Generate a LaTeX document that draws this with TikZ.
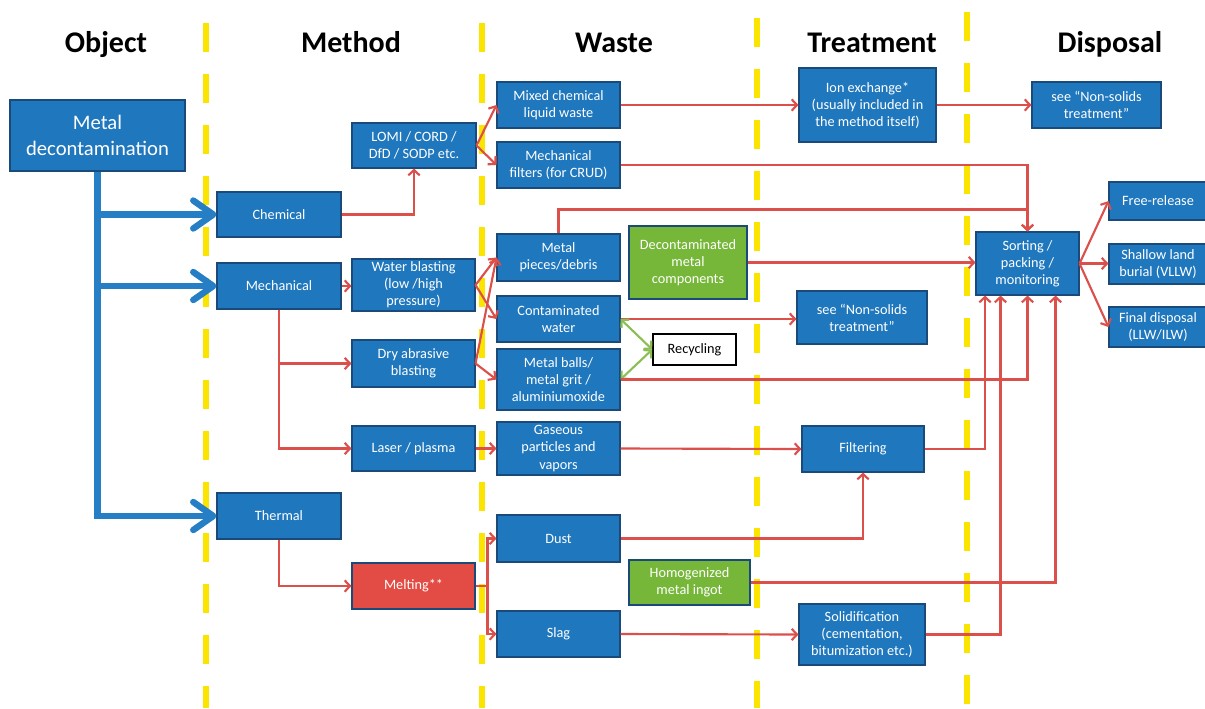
\documentclass[tikz,border=0pt]{standalone}
\usepackage{fontspec}
\setmainfont{Carlito}
\usepackage{tikz}
\usetikzlibrary{arrows.meta}
\usetikzlibrary{positioning}
\usetikzlibrary{calc}
\definecolor{boxblue}{RGB}{31,119,189}
\definecolor{boxedge}{RGB}{26,74,122}
\definecolor{boxgreen}{RGB}{118,183,58}
\definecolor{boxred}{RGB}{226,76,68}
\definecolor{linered}{RGB}{219,80,74}
\definecolor{linegreen}{RGB}{140,190,86}
\definecolor{trunkblue}{RGB}{38,126,196}
\definecolor{divideryellow}{RGB}{250,228,0}
\tikzset{
  flowchart/.style={
    x=0.75pt, y=-0.75pt,
    box/.style={rectangle, draw=boxedge, line width=0.8pt, fill=boxblue, text=white,
      align=center, inner sep=1pt, font={\fontsize{10.7}{12.8}\selectfont}},
    box size/.style 2 args={minimum width=##1*0.75pt, minimum height=##2*0.75pt},
    green box/.style={box, fill=boxgreen},
    red box/.style={box, fill=boxred},
    plain box/.style={box, fill=white, draw=black, line width=1.2pt, text=black},
    column title/.style={anchor=base, font={\fontsize{22.5}{27}\selectfont\bfseries}},
    divider line/.style={divideryellow, line width=4.5pt, dash pattern=on 21.75pt off 16.5pt},
    flow/.style={linered, line width=1.6pt, -{Straight Barb[length=4pt,width=8.5pt]}},
    recycle/.style={linegreen, line width=1.6pt, {Straight Barb[length=4pt,width=8.5pt]}-{Straight Barb[length=4pt,width=8.5pt]}},
    main flow/.style={trunkblue, line width=4.8pt, -{Straight Barb[length=15pt,width=21pt,round]}},
  }
}

\begin{document}
\begin{tikzpicture}[flowchart]
    \useasboundingbox (0,0) rectangle (1205,708);

    \draw[divider line] (206,23) -- (206,708);
    \draw[divider line] (482,23) -- (482,708);
    \draw[divider line] (757,18) -- (757,708);
    \draw[divider line] (967,12) -- (967,708);

    \node[column title] (t-object) at (106,52) {Object};
    \node[column title] (t-method) at (351,52) {Method};
    \node[column title] (t-waste) at (614,52) {Waste};
    \node[column title] (t-treat) at (872,52) {Treatment};
    \node[column title] (t-disp) at (1110,52) {Disposal};

    % object and methods
    \node[box, box size={175}{71}, font={\fontsize{15.5}{20}\selectfont}] (metal) at (97.5,135.5) {Metal\\decontamination};
    \node[box, box size={124}{45}] (chem) at (279,214.5) {Chemical};
    \node[box, box size={124}{46}] (mech) at (279,286) {Mechanical};
    \node[box, box size={124}{46}] (therm) at (279,516) {Thermal};
    \node[box, box size={124}{45}] (lomi) at (414,145.5) {LOMI / CORD /\\DfD / SODP etc.};
    \node[box, box size={123}{52}] (water) at (413.5,285) {Water blasting\\(low /high\\pressure)};
    \node[box, box size={123}{47}] (dry) at (413.5,363.5) {Dry abrasive\\blasting};
    \node[box, box size={123}{45}] (laser) at (413.5,448.5) {Laser / plasma};
    \node[red box, box size={123}{46}] (melt) at (413.5,586) {Melting**};

    % waste
    \node[box, box size={123}{46}] (mixed) at (558.5,105) {Mixed chemical\\liquid waste};
    \node[box, box size={123}{46}] (filters) at (558.5,165) {Mechanical\\filters (for CRUD)};
    \node[box, box size={123}{47}] (pieces) at (558.5,257.5) {Metal\\pieces/debris};
    \node[box, box size={123}{46}] (cwater) at (558.5,319) {Contaminated\\water};
    \node[box, box size={123}{61}] (balls) at (558.5,379.5) {Metal balls/\\metal grit /\\aluminiumoxide};
    \node[box, box size={123}{53}] (gas) at (558.5,448.5) {Gaseous\\particles and\\vapors};
    \node[box, box size={123}{47}] (dust) at (558.5,538.5) {Dust};
    \node[box, box size={123}{46}] (slag) at (558.5,634) {Slag};
    \node[green box, box size={118}{73}] (decon) at (688,262.5) {Decontaminated\\metal\\components};
    \node[plain box, box size={83}{31}] (recyc) at (694.5,349.5) {Recycling};
    \node[green box, box size={121}{45}] (ingot) at (689.5,582.5) {Homogenized\\metal ingot};

    % treatment
    \node[box, box size={137}{74}] (ion) at (867.5,105) {Ion exchange*\\(usually included in\\the method itself)};
    \node[box, box size={130}{53}] (nonsol-a) at (862,317.5) {see “Non-solids\\treatment”};
    \node[box, box size={122}{46}] (filtr) at (863,449) {Filtering};
    \node[box, box size={126}{61}] (solid) at (862,634.5) {Solidification\\(cementation,\\bitumization etc.)};

    % disposal
    \node[box, box size={129}{46}] (nonsol-b) at (1096.5,105) {see “Non-solids\\treatment”};
    \node[box, box size={103}{63}] (sort) at (1027.5,263.5) {Sorting /\\packing /\\monitoring};
    \node[box, box size={98}{38}] (free) at (1158,201) {Free-release};
    \node[box, box size={98}{40}] (shallow) at (1158,264) {Shallow land\\burial (VLLW)};
    \node[box, box size={98}{40}] (final) at (1158,327) {Final disposal\\(LLW/ILW)};

    \draw[main flow] (metal.south) |- (chem.west);
    \draw[main flow] (metal.south) |- (mech.west);
    \draw[main flow] (metal.south) |- (therm.west);

    \draw[flow] (chem.east) -| (lomi.south);
    \draw[flow] (lomi.east) -- (mixed.west);
    \draw[flow] (lomi.east) -- (filters.west);
    \draw[flow] (mech.east) -- (mech.east -| water.west);
    \draw[flow] (mech.south) |- (dry.west);
    \draw[flow] (mech.south) |- (laser.west);
    \draw[flow] (therm.south) |- (melt.west);

    \draw[flow] (water.east) -- (pieces.west);
    \draw[flow] (water.east) -- (cwater.west);
    \draw[flow] (dry.east) -- (pieces.west);
    \draw[flow] (dry.east) -- (balls.west);
    \draw[flow] (laser.east) -- (gas.west);
    \draw[flow] (melt.east) -- ++(12,0) |- (dust.west);
    \draw[flow] (melt.east) -- ++(12,0) |- (slag.west);

    \draw[flow] (mixed.east) -- (ion.west);
    \draw[flow] (ion.east) -- (nonsol-b.west);
    \draw[flow] (filters.east) -| (sort.north);
    \draw[flow] (pieces.north) -- ++(0,-24) -| (sort.north);
    \draw[flow] (decon.east) -- (decon.east -| sort.west);
    \draw[flow] (cwater.east) -- (cwater.east -| nonsol-a.west);
    \draw[recycle] (cwater.east) -- (recyc.west);
    \draw[recycle] (balls.east) -- (recyc.west);
    \draw[flow] (balls.east) -| (sort.south);
    \draw[flow] (gas.east) -- (filtr.west);
    \draw[flow] (dust.east) -| (filtr.south);
    \draw[flow] (slag.east) -- (solid.west);
    \draw[flow] (filtr.east) -| ($(sort.south)+(-42.5,0)$);
    \draw[flow] (solid.east) -| ($(sort.south)+(-27,0)$);
    \draw[flow] (ingot.east) -| ($(sort.south)+(28,0)$);

    \draw[flow] (sort.east) -- (free.west);
    \draw[flow] (sort.east) -- (sort.east -| shallow.west);
    \draw[flow] (sort.east) -- (final.west);
\end{tikzpicture}
\end{document}
